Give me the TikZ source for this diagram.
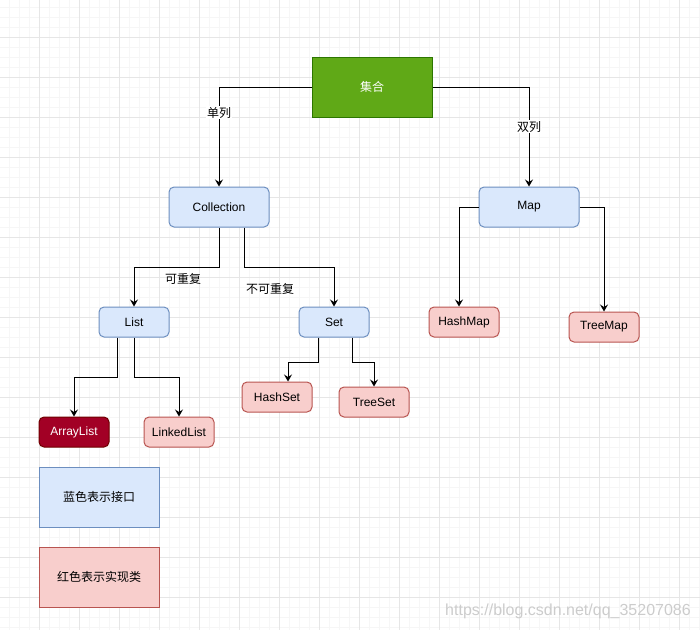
\documentclass[tikz,border=0pt]{standalone}
\usepackage{fontspec}
\setmainfont{Liberation Sans}
\newfontfamily\cjk{Noto Sans CJK SC}
\usetikzlibrary{arrows.meta, positioning, calc}
\definecolor{cblue}{HTML}{DAE8FC}
\definecolor{cbluedraw}{HTML}{6C8EBF}
\definecolor{cred}{HTML}{F8CECC}
\definecolor{creddraw}{HTML}{B85450}
\definecolor{cdark}{HTML}{A20025}
\definecolor{cdarkdraw}{HTML}{6F0000}
\definecolor{cgreen}{HTML}{60A917}
\definecolor{cgreendraw}{HTML}{2D7600}
\definecolor{cminor}{HTML}{F6F6F6}
\definecolor{cmajor}{HTML}{E6E6E6}
\tikzset{
  every picture/.style={font=\fontsize{12}{14}\selectfont, line width=1pt},
  box/.style={draw=#1draw, fill=#1, rounded corners=5pt, minimum width=70pt, minimum height=30pt, inner sep=0pt},
  box/.default=cblue,
  legend/.style={draw=#1draw, fill=#1, minimum width=120pt, minimum height=60pt, inner sep=0pt, font=\fontsize{12}{14}\selectfont\cjk},
  arrow/.style={-{Stealth[length=7pt, width=8pt, inset=2.5pt]}, draw=black},
  edgelabel/.style={fill=white, inner sep=1pt, font=\fontsize{12}{14}\selectfont\cjk},
  note/.style={inner sep=0pt, font=\fontsize{12}{14}\selectfont\cjk},
}

\begin{document}
\begin{tikzpicture}[x=1pt, y=-1pt]
  \useasboundingbox (0,0) rectangle (700,630);
  % grid of the canvas
  \foreach \k in {0,...,69} \draw[cminor, line width=0.8pt] (9.5+10*\k,0) -- (9.5+10*\k,630);
  \foreach \k in {0,...,62} \draw[cminor, line width=0.8pt] (0,7.5+10*\k) -- (700,7.5+10*\k);
  \foreach \k in {0,...,17} \draw[cmajor, line width=0.8pt] (39.5+40*\k,0) -- (39.5+40*\k,630);
  \foreach \k in {0,...,15} \draw[cmajor, line width=0.8pt] (0,37.5+40*\k) -- (700,37.5+40*\k);

  % top and interfaces
  \node[box=cgreen, rounded corners=0pt, minimum width=120pt, minimum height=60pt, text=white, font=\fontsize{12}{14}\selectfont\cjk] (jihe) at (372,87) {集合};
  \node[box, minimum width=100pt, minimum height=40pt] (coll) at (219,207) {Collection};
  \node[box, minimum width=100pt, minimum height=40pt] (map) at (529,207) {Map};
  \node[box] (list) at (134,322) {List};
  \node[box] (set) at (334,322) {Set};

  % classes
  \node[box=cdark, text=white] (alist) at (74,432) {ArrayList};
  \node[box=cred] (llist) at (179,432) {LinkedList};
  \node[box=cred] (hset) at (277,397) {HashSet};
  \node[box=cred] (tset) at (374,402) {TreeSet};
  \node[box=cred] (hmap) at (464,322) {HashMap};
  \node[box=cred] (tmap) at (604,327) {TreeMap};

  % legend
  \node[legend=cblue] (lblue) at (99,497) {蓝色表示接口};
  \node[legend=cred] (lred) at (99,577) {红色表示实现类};

  % connectors
  \draw[arrow] (jihe.west) -| node[edgelabel, pos=0.63] {单列} (coll.north);
  \draw[arrow] (jihe.east) -| node[edgelabel, pos=0.7] {双列} (map.north);
  \draw[arrow] (coll.south) -- ++(0,40) -| (list.north);
  \draw[arrow] ($(coll.south)+(25,0)$) -- ++(0,40) -| (set.north);
  \node[note] (rep) at (183,279) {可重复};
  \node[note] (norep) at (270,289) {不可重复};
  \draw[arrow] ($(list.south)+(-16.5,0)$) -- ++(0,40) -| (alist.north);
  \draw[arrow] (list.south) -- ++(0,40) -| (llist.north);
  \draw[arrow] ($(set.south)+(-16,0)$) -- ++(0,25) -| ($(hset.north)+(11,0)$);
  \draw[arrow] ($(set.south)+(18,0)$) -- ++(0,25) -| (tset.north);
  \draw[arrow] (map.west) -| ($(hmap.north)+(-5,0)$);
  \draw[arrow] (map.east) -| (tmap.north);

  \node[text=black!20, font=\fontsize{16}{18}\selectfont] (mark) at (568,611) {https://blog.csdn.net/qq\_35207086};
\end{tikzpicture}
\end{document}
